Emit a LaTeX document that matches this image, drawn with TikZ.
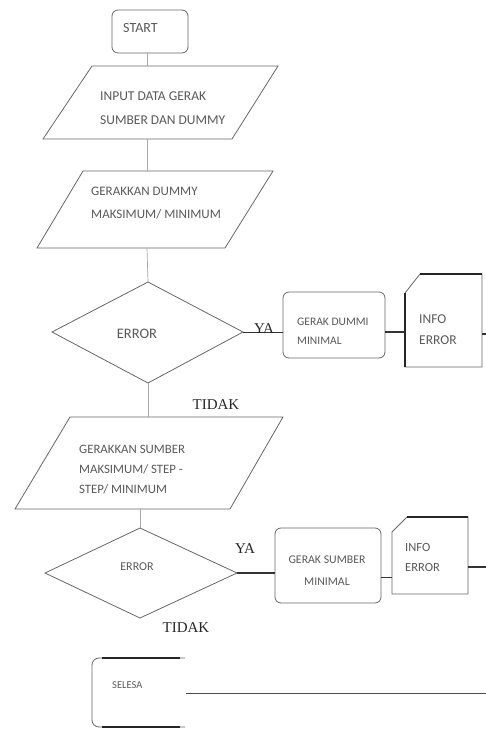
\documentclass[tikz,border=0pt]{standalone}
\usepackage{fontspec}
\setmainfont{Carlito}
\newfontfamily\serifyn{Liberation Serif}
\begin{document}
\begin{tikzpicture}[x=1pt,y=-1pt,
  outline/.style={draw=black!60, line width=0.8pt},
  vconn/.style={draw=black!35, line width=0.7pt},
  hconn/.style={draw=black!80, line width=1.4pt},
  lbl/.style={font=\fontsize{12}{22}\selectfont, text=black!65, align=left, inner sep=0pt, anchor=west},
  lblc/.style={font=\fontsize{12}{22}\selectfont, text=black!65, align=center, inner sep=0pt},
  yn/.style={font=\serifyn\fontsize{15}{17}\selectfont, text=black!85, inner sep=0pt},
  roundbox/.style={outline, rounded corners=6pt, inner sep=0pt}]
\useasboundingbox (0,0) rectangle (486,729);

% START
\node[roundbox, minimum width=76pt, minimum height=43pt] (start) at (150,31.5) {};
\node[lbl, font=\fontsize{14}{16}\selectfont] (startt) at (123,28) {START};

% Parallelogram 1
\coordinate (p1a) at (92,66); \coordinate (p1b) at (278,66);
\coordinate (p1c) at (232,139); \coordinate (p1d) at (43,139);
\draw[outline] (p1a) -- (p1b) -- (p1c) -- (p1d) -- cycle;
\node[lbl, font=\fontsize{13.5}{24}\selectfont] (p1t) at (100,108) {INPUT DATA GERAK\\SUMBER DAN DUMMY};
\coordinate (p1top) at (147,66); \coordinate (p1bot) at (147,139);

% Parallelogram 2
\coordinate (p2a) at (83,171); \coordinate (p2b) at (273,171);
\coordinate (p2c) at (225,248); \coordinate (p2d) at (37,248);
\draw[outline] (p2a) -- (p2b) -- (p2c) -- (p2d) -- cycle;
\node[lbl, font=\fontsize{13}{23}\selectfont] (p2t) at (91,203) {GERAKKAN DUMMY\\MAKSIMUM/ MINIMUM};
\coordinate (p2top) at (147,171); \coordinate (p2bot) at (147,248);

% Diamond 1
\coordinate (d1t) at (148,282); \coordinate (d1r) at (243,332);
\coordinate (d1b) at (148,383); \coordinate (d1l) at (52,332);
\draw[outline] (d1t) -- (d1r) -- (d1b) -- (d1l) -- cycle;
\node[lblc, font=\fontsize{14.5}{16}\selectfont] (d1x) at (137,334) {ERROR};

% Box Gerak Dummi
\node[roundbox, minimum width=102pt, minimum height=66pt] (gd) at (334,325) {};
\node[lbl, font=\fontsize{11.5}{19}\selectfont] (gdt) at (297,331) {GERAK DUMMI\\MINIMAL};

% Card 1
\coordinate (c1a) at (405,293); \coordinate (c1b) at (420,274);
\coordinate (c1c) at (482,274); \coordinate (c1d) at (482,367);
\coordinate (c1e) at (405,367);
\draw[outline] (c1a) -- (c1b) -- (c1c) -- (c1d) -- (c1e) -- cycle;
\draw[draw=black!85, line width=1.4pt] (c1b) -- (c1c);
\draw[draw=black!85, line width=1.4pt] (c1a) -- (c1e);
\node[lbl, font=\fontsize{13.5}{21}\selectfont] (c1t) at (419,330) {INFO\\ERROR};
\coordinate (c1out) at (486,334);

% Parallelogram 3
\coordinate (p3a) at (70,417); \coordinate (p3b) at (283,417);
\coordinate (p3c) at (230,509); \coordinate (p3d) at (15,509);
\draw[outline] (p3a) -- (p3b) -- (p3c) -- (p3d) -- cycle;
\node[lbl, font=\fontsize{12.8}{20}\selectfont] (p3t) at (79,470) {GERAKKAN SUMBER\\MAKSIMUM/ STEP -\\STEP/ MINIMUM};
\coordinate (p3top) at (148,417); \coordinate (p3bot) at (140,509);

% Diamond 2
\coordinate (d2t) at (140,528); \coordinate (d2r) at (237,573);
\coordinate (d2b) at (140,618); \coordinate (d2l) at (45,573);
\draw[outline] (d2t) -- (d2r) -- (d2b) -- (d2l) -- cycle;
\node[lblc, font=\fontsize{12}{14}\selectfont] (d2x) at (137,567) {ERROR};

% Box Gerak Sumber
\node[roundbox, minimum width=106pt, minimum height=75pt] (gs) at (328,565.5) {};
\node[lblc, font=\fontsize{11.8}{22}\selectfont] (gst) at (327,571) {GERAK SUMBER\\MINIMAL};

% Card 2
\coordinate (c2a) at (392,532); \coordinate (c2b) at (407,517);
\coordinate (c2c) at (468,517); \coordinate (c2d) at (468,594);
\coordinate (c2e) at (392,594);
\draw[outline] (c2a) -- (c2b) -- (c2c) -- (c2d) -- (c2e) -- cycle;
\draw[draw=black!85, line width=1.2pt] (c2b) -- (c2c);
\node[lbl, font=\fontsize{12.5}{20}\selectfont] (c2t) at (405,557) {INFO\\ERROR};
\coordinate (c2out) at (486,567);

% SELESA (open on the right)
\coordinate (s1) at (185,658); \coordinate (s2) at (92,658);
\coordinate (s3) at (92,727); \coordinate (s4) at (185,727);
\draw[outline, rounded corners=7pt] (s1) -- (s2) -- (s3) -- (s4);
\draw[draw=black!85, line width=1.3pt] (180,658) -- (102,658);
\draw[draw=black!85, line width=1.3pt] (180,727) -- (102,727);
\node[lbl, font=\fontsize{10.5}{12}\selectfont] (st) at (112,685) {SELESA};
\coordinate (sout) at (486,693);
\coordinate (sin) at (186,693);

% vertical connectors
\draw[vconn] (start.south -| p1top) -- (p1top);
\draw[vconn] (p1bot) -- (p2top);
\draw[vconn] (p2bot) -- (d1t);
\draw[vconn] (d1b) -- (p3top);
\draw[vconn] (p3bot) -- (d2t);

% horizontal connectors
\draw[hconn, line width=1pt] (d1r) -- (gd.west |- d1r);
\draw[hconn] (gd.east |- d1r) -- (c1a |- d1r);
\draw[hconn] (c1d |- c1out) -- (c1out);
\draw[hconn] (d2r) -- (gs.west |- d2r);
\draw[hconn, line width=1pt] (gs.east |- 0,577) -- (c2a |- 0,577);
\draw[hconn] (c2d |- c2out) -- (c2out);
\draw[draw=black!70, line width=0.9pt] (sin) -- (sout);

% labels
\node[yn] (ya1) at (264,329) {YA};
\node[yn] (td1) at (216,405) {TIDAK};
\node[yn] (ya2) at (245,549) {YA};
\node[yn] (td2) at (186,628) {TIDAK};
\end{tikzpicture}
\end{document}
